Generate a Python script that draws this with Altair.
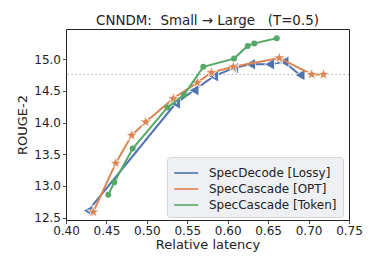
import altair as alt
import pandas as pd

series_names = ["SpecDecode [Lossy]", "SpecCascade [OPT]", "SpecCascade [Token]"]
colors = ["#4C72B0", "#DD8452", "#55A868"]

lossy_x = [0.4276, 0.5354, 0.5583, 0.5824, 0.6071, 0.6282, 0.6517, 0.6696, 0.6894]
lossy_y = [12.61, 14.30, 14.51, 14.73, 14.86, 14.92, 14.92, 14.96, 14.75]

opt_x = [0.4338, 0.4615, 0.4813, 0.4986, 0.5327, 0.5624, 0.5799, 0.6069, 0.6638, 0.7039, 0.7185]
opt_y = [12.59, 13.36, 13.80, 14.01, 14.38, 14.63, 14.79, 14.88, 15.02, 14.76, 14.76]

token_x = [0.4523, 0.4597, 0.4825, 0.5255, 0.5459, 0.5698, 0.6078, 0.6247, 0.6329, 0.6606]
token_y = [12.86, 13.06, 13.59, 14.24, 14.44, 14.88, 15.01, 15.21, 15.25, 15.33]

ref_level = 14.76

x_ticks = [0.40, 0.45, 0.50, 0.55, 0.60, 0.65, 0.70, 0.75]
y_ticks = [12.5, 13.0, 13.5, 14.0, 14.5, 15.0]

rows = []
for name, xs_, ys_ in zip(series_names, [lossy_x, opt_x, token_x], [lossy_y, opt_y, token_y]):
    for i, (a, b) in enumerate(zip(xs_, ys_)):
        rows.append({"series": name, "latency": a, "rouge": b, "order": i})
df = pd.DataFrame(rows)

STAR = ("M0,-1L0.235,-0.324L0.951,-0.309L0.380,0.124L0.588,0.809L0,0.4"
        "L-0.588,0.809L-0.380,0.124L-0.951,-0.309L-0.235,-0.324Z")

xs = alt.Scale(domain=[0.40, 0.75], nice=False, zero=False)
ys = alt.Scale(domain=[12.463, 15.477], nice=False, zero=False)
xaxis = alt.Axis(title="Relative latency", values=x_ticks, format=".2f",
                 labelFlush=False, labelOverlap=False)
yaxis = alt.Axis(title="ROUGE-2", values=y_ticks, format=".1f",
                 labelFlush=False, labelOverlap=False)
xenc = alt.X("latency:Q", scale=xs, axis=xaxis)
yenc = alt.Y("rouge:Q", scale=ys, axis=yaxis)
cenc = alt.Color("series:N", scale=alt.Scale(domain=series_names, range=colors),
                 legend=alt.Legend(title=None, orient="none", legendX=101, legendY=128,
                                   symbolType="M-1,0H1.71", symbolSize=313, symbolStrokeWidth=1.6,
                                   labelFontSize=12, labelFont="DejaVu Sans", labelColor="#222",
                                   padding=6, rowPadding=0, labelOffset=16,
                                   fillColor="#eef0f4", strokeColor="#d5d5d5", cornerRadius=3))

base = alt.Chart(df)
rule = alt.Chart(pd.DataFrame({"rouge": [ref_level]})).mark_rule(
    color="#b0b0b0", strokeDash=[1.5, 2.5], strokeWidth=1).encode(y=yenc)

marks = [
    dict(shape="triangle-left", size=130, stroke="white", sw=0.8),
    dict(shape=STAR, size=150, stroke="white", sw=0.8),
    dict(shape="circle", size=36, stroke=None, sw=0),
]

layers = [rule]
for name, col, mk in zip(series_names, colors, marks):
    sub = base.transform_filter(alt.datum.series == name)
    line = sub.mark_line(strokeWidth=2).encode(x=xenc, y=yenc, color=cenc, order="order:Q")
    pkw = dict(shape=mk["shape"], size=mk["size"], color=col, filled=True, opacity=1)
    if mk["stroke"]:
        pkw.update(stroke=mk["stroke"], strokeWidth=mk["sw"])
    pts = sub.mark_point(**pkw).encode(x=xenc, y=yenc)
    layers += [line, pts]

title_text = "CNNDM:\u00a0\u00a0Small → Large\u00a0\u00a0\u00a0(T=0.5)"

chart = alt.layer(*layers).properties(
    width=283, height=191,
    title=alt.TitleParams(title_text, fontSize=13.4, font="DejaVu Sans",
                          fontWeight="normal", color="#222", offset=2),
    autosize=alt.AutoSizeParams(type="none"),
    padding={"left": 58, "top": 21, "right": 21, "bottom": 42},
).configure_view(stroke="#222", strokeWidth=1).configure_axis(
    domain=False, grid=False, tickColor="#222", tickSize=3.5, tickWidth=0.8,
    labelFont="DejaVu Sans", labelFontSize=12, labelColor="#222", labelPadding=2,
    labelOverlap=False, labelFlush=False,
    titleFont="DejaVu Sans", titleFontSize=13, titleFontWeight="normal", titleColor="#222",
).configure_axisX(titlePadding=2).configure_axisY(titlePadding=4)

chart.save("out.html", embed_options={"renderer": "svg", "actions": False})
